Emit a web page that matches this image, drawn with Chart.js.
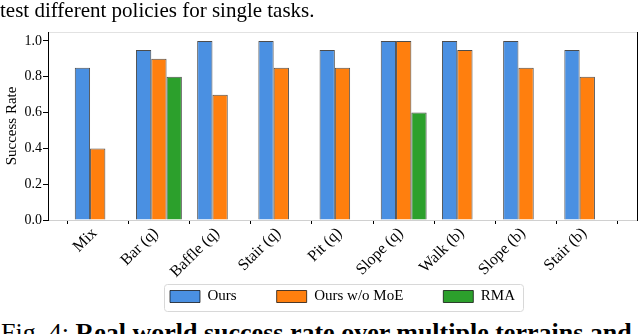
<!DOCTYPE html>
<html><head><meta charset="utf-8">
<script src="https://cdn.jsdelivr.net/npm/chart.js@4.4.1/dist/chart.umd.min.js"></script>
<style>
html,body{margin:0;padding:0;background:#fff;}
#wrap{position:relative;width:640px;height:334px;overflow:hidden;background:#fff;}
#c{position:absolute;left:0;top:0;}
.cap{position:absolute;left:0;font-family:"Liberation Serif","Times New Roman",serif;color:#000;white-space:nowrap;line-height:normal;z-index:2;}
</style></head><body>
<div id="wrap">
<canvas id="c" width="640" height="314" style="width:640px;height:314px;"></canvas>
<div class="cap" id="topcap" style="top:-2px;font-size:21px;">test different policies for single tasks.</div>
<div class="cap" id="botcap" style="top:318px;left:1px;font-size:26px;">Fig. 4: <b>Real world success rate over multiple terrains and</b></div>
</div>
<script>
const categories = ['Mix','Bar (q)','Baffle (q)','Stair (q)','Pit (q)','Slope (q)','Walk (b)','Slope (b)','Stair (b)'];
const seriesNames = ['Ours','Ours w/o MoE','RMA'];
const ours      = [0.85, 0.95, 1.00, 1.00, 0.95, 1.00, 1.00, 1.00, 0.95];
const oursNoMoE = [0.40, 0.90, 0.70, 0.85, 0.85, 1.00, 0.95, 0.85, 0.80];
const rma       = [null, 0.80, null, null, null, 0.60, null, null, null];
const yTicks = [0.0, 0.2, 0.4, 0.6, 0.8, 1.0];
const yTitle = 'Success Rate';

const FONT = '"Liberation Serif","Times New Roman",serif';
Chart.defaults.font.family = FONT;
Chart.defaults.color = '#000';

const toXY = arr => arr.map((v, i) => ({x: i, y: v}));

const legendFrame = {
  id: 'legendFrame',
  afterLayout(chart) {
    const lg = chart.legend, ca = chart.chartArea;
    if (lg) { lg.left = ca.left; lg.right = ca.right; }
    // let the rotated category labels spill below the axis box without being clipped
    chart.scales.x.bottom = chart.height;
  },
  afterDraw(chart) {
    const hb = chart.legend && chart.legend.legendHitBoxes;
    if (!hb || !hb.length) return;
    const last = hb[hb.length - 1];
    const l = hb[0].left - 6, r = last.left + last.width + 8;
    const t = hb[0].top - 5, b = hb[0].top + hb[0].height + 7;
    const ctx = chart.ctx;
    ctx.save();
    ctx.strokeStyle = '#d8d8d8';
    ctx.lineWidth = 1;
    ctx.beginPath();
    ctx.roundRect(Math.round(l) + 0.5, Math.round(t) + 0.5, Math.round(r - l), Math.round(b - t), 3);
    ctx.stroke();
    ctx.restore();
  }
};

const common = {borderWidth: 1, borderColor: 'rgba(0,0,0,0.7)', categoryPercentage: 0.75, barPercentage: 1.0};

new Chart(document.getElementById('c'), {
  type: 'bar',
  data: {
    datasets: [
      Object.assign({label: seriesNames[0], data: toXY(ours), backgroundColor: '#4a90e2'}, common),
      Object.assign({label: seriesNames[1], data: toXY(oursNoMoE), backgroundColor: '#ff7f0e'}, common),
      Object.assign({label: seriesNames[2], data: toXY(rma), backgroundColor: '#2ca02c'}, common)
    ]
  },
  options: {
    responsive: false,
    animation: false,
    layout: {padding: 0},
    plugins: {
      tooltip: {enabled: false},
      legend: {
        position: 'bottom',
        align: 'center',
        labels: {boxWidth: 30, boxHeight: 12, padding: 40, color: '#000', font: {family: FONT, size: 15}}
      }
    },
    scales: {
      x: {
        type: 'linear', min: -0.8125, max: 8.8125, offset: false,
        afterBuildTicks: s => { s.ticks = categories.map((c, i) => ({value: i})); },
        ticks: {autoSkip: false, minRotation: 45, maxRotation: 45, padding: 0, labelOffset: -3, color: '#000',
                font: {family: FONT, size: 16}, callback: (v, i) => categories[i]},
        grid: {drawOnChartArea: false, drawTicks: true, tickLength: 4, color: '#000'},
        border: {color: '#d0d0d0', width: 1},
        afterFit: s => { s.height = 29; }
      },
      x2: {
        type: 'linear', position: 'top', display: true,
        ticks: {display: false}, grid: {display: false, drawTicks: false},
        border: {color: '#e2e2e2', width: 1},
        afterFit: s => { s.height = 32; }
      },
      y: {
        min: 0, max: 1.05,
        afterBuildTicks: s => { s.ticks = yTicks.map(v => ({value: v})); },
        ticks: {padding: 1, color: '#000', font: {family: FONT, size: 14}, callback: v => Number(v).toFixed(1)},
        grid: {drawOnChartArea: false, drawTicks: true, tickLength: 5, color: '#000'},
        border: {color: '#000', width: 1},
        title: {display: true, text: yTitle, color: '#000', font: {family: FONT, size: 15}, padding: {top: 3, bottom: 0}},
        afterFit: s => { s.width = 48; }
      },
      y2: {
        position: 'right', display: true,
        ticks: {display: false}, grid: {display: false, drawTicks: false},
        border: {color: '#000', width: 1},
        afterFit: s => { s.width = 3; }
      }
    }
  },
  plugins: [legendFrame]
});
</script>
</body></html>
